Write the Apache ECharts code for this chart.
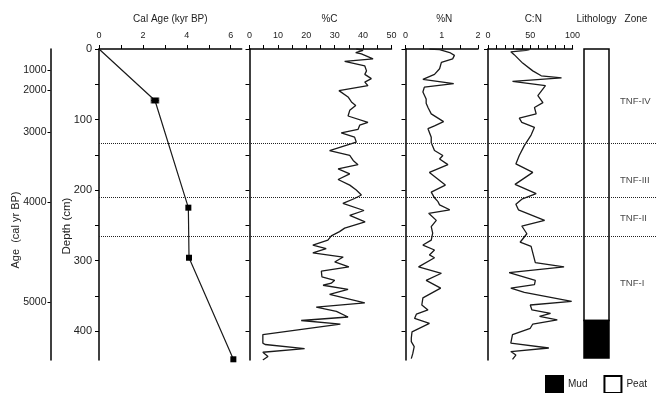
<!DOCTYPE html>
<html>
<head>
<meta charset="utf-8">
<script src="https://cdn.jsdelivr.net/npm/echarts@6/dist/echarts.min.js"></script>
<style>
  html, body { margin: 0; padding: 0; background: #fff; }
  #chart { width: 658px; height: 393px; }
</style>
</head>
<body>
<div id="chart"></div>
<script>
// [depth (cm), value]
const carbonPct = [
  [0, 37.6], [2, 40], [5, 37.4], [7, 39.4], [14, 43.5], [17.5, 33.5], [24, 40.6], [31, 41.2],
  [36, 40.6], [42, 42.9], [47, 40.6], [52, 41.7], [59, 31.5], [68, 34.7], [75, 35.9], [80, 37.4],
  [87, 35.3], [95, 34.7], [104, 41.7], [108, 38.8], [114, 38.2], [119, 32.3], [125, 37], [132, 37.6],
  [144, 28.2], [151, 35.3], [158, 36.5], [164, 38.2], [170, 31.2], [177, 35.3], [185, 31.2], [193, 35.3],
  [200, 37.6], [207, 39.4], [212, 37], [219, 32.9], [229, 40.3], [236, 35.3], [245, 40.7], [254, 33.5],
  [259, 31.7], [265, 28.8], [271, 27.6], [278, 22.3], [283, 27], [289, 22.3], [295, 33], [302, 30],
  [309, 35], [315, 25.3], [323, 25.5], [328, 30], [332, 28.8], [335, 25.9], [341, 34.7], [348, 28.2],
  [360, 40.6], [366, 23.5], [372, 30.6], [380, 34.7], [385, 18.2], [390, 32], [405, 4.7], [417, 4.7],
  [419, 5.5], [425, 19.4], [430, 4.7], [436, 6.5], [441, 4.7]
];

const nitrogenPct = [
  [0, 0.66], [1, 0.94], [5, 1.22], [9, 1.35], [14, 1.3], [19, 0.99], [28, 0.94], [36, 0.8],
  [43, 0.48], [49, 1.33], [54, 0.52], [61, 0.48], [71, 0.57], [77, 0.57], [83, 0.62], [92, 0.71],
  [103, 1.05], [109, 0.8], [113, 0.62], [125, 0.71], [133, 0.71], [144, 0.8], [151, 1.03], [156, 0.94],
  [164, 1.17], [175, 0.66], [193, 1.1], [203, 0.71], [211, 0.8], [216, 0.89], [221, 0.94], [228, 1.22],
  [233, 0.64], [243, 0.85], [252, 0.71], [261, 0.75], [271, 0.71], [278, 0.48], [285, 0.8], [292, 0.66],
  [296, 0.8], [309, 0.36], [318, 0.99], [328, 0.57], [339, 0.97], [353, 0.48], [363, 0.45], [370, 0.62],
  [376, 0.3], [382, 0.25], [389, 0.66], [401, 0.18], [410, 0.16], [415, 0.16], [422, 0.24], [432, 0.2],
  [439, 0.16]
];

const cnRatio = [
  [0, 33], [1, 49], [2, 45], [4, 27], [8, 31], [20, 41], [31, 53], [38, 63], [41, 87], [46, 29],
  [52, 68], [66, 59], [76, 65], [83, 55], [92, 57], [98, 37], [104, 40], [111, 55], [122, 51],
  [137, 43], [151, 37], [163, 33], [175, 53], [192, 32], [205, 57], [213, 40], [220, 33], [228, 36],
  [243, 67], [251, 40], [262, 46], [274, 38], [280, 51], [303, 56], [309, 90], [317, 25], [328, 56],
  [334, 55], [339, 27], [345, 43], [358, 99], [363, 50], [370, 52], [375, 74], [379, 61], [384, 82],
  [390, 53], [396, 50], [405, 29], [417, 27], [424, 72], [429, 27], [434, 33], [440, 29]
];

// age-depth model: dated depths, cal ages (kyr BP) and errors
const dateDepth = [0, 73, 225, 296, 440];
const dateAge = [0, 2.55, 4.07, 4.1, 6.12];
const dateErr = [0, 0.17, 0.04, 0.04, 0.04];

// left age scale: depth of each tick and its label
const ageTickDepth = [30, 58, 118, 217, 359];
const ageTickLabels = ['1000', '2000', '3000', '4000', '5000'];

const depthTicks = [0, 50, 100, 150, 200, 250, 300, 350, 400];
const depthLabels = [0, 100, 200, 300, 400];
const calAgeTicks = [0, 1, 2, 3, 4, 5, 6];
const calAgeLabels = [0, 2, 4, 6];
const carbonTicks = [0, 5, 10, 15, 20, 25, 30, 35, 40, 45, 50];
const carbonLabels = [0, 10, 20, 30, 40, 50];
const nitrogenTicks = [0, 0.5, 1, 1.5, 2];
const nitrogenLabels = [0, 1, 2];
const cnTicks = [0, 10, 20, 30, 40, 50, 60, 70, 80, 90, 100];
const cnLabels = [0, 50, 100];

const zoneBounds = [134, 210, 266];
const zoneNames = ['TNF-IV', 'TNF-III', 'TNF-II', 'TNF-I'];
const zoneLabelDepth = [74, 186, 240, 333];

const lithNames = ['Peat', 'Mud'];
const lithTop = [0, 385];
const lithBottom = [385, 438];
const lithColors = ['#ffffff', '#000000'];

const DEPTH_MAX = 441;
const FONT = '"Liberation Sans", Arial, sans-serif';
const INK = '#1a1a1a';

const chart = echarts.init(document.getElementById('chart'), null, { renderer: 'canvas' });

function topAxis(gridIndex, name, min, max, ticks, labels, namePad) {
  return {
    type: 'value', gridIndex, position: 'top', min, max,
    name, nameLocation: 'middle', nameGap: 25,
    nameTextStyle: { fontSize: 10, color: '#222', fontFamily: FONT, padding: namePad || 0 },
    axisLine: { show: true, onZero: false, lineStyle: { color: '#000', width: 1.5 } },
    axisTick: { show: true, length: 4, lineStyle: { color: '#000', width: 1 }, customValues: ticks },
    axisLabel: { show: true, margin: 9, fontSize: 9, color: '#222', fontFamily: FONT, customValues: labels },
    splitLine: { show: false }
  };
}

function depthAxis(gridIndex, withLabels) {
  return {
    type: 'value', gridIndex, min: 0, max: DEPTH_MAX, inverse: true, position: 'left',
    axisLine: { show: true, onZero: false, lineStyle: { color: '#000', width: 1.5 } },
    axisTick: { show: true, length: 4, lineStyle: { color: '#000', width: 1 }, customValues: depthTicks },
    axisLabel: { show: withLabels, margin: 7, fontSize: 11, color: '#222', fontFamily: FONT, customValues: depthLabels },
    splitLine: { show: false }
  };
}

function hiddenAxis(gridIndex, type, extra) {
  return Object.assign({
    type: 'value', gridIndex, min: 0, max: type === 'y' ? DEPTH_MAX : 1,
    inverse: type === 'y',
    axisLine: { show: false }, axisTick: { show: false }, axisLabel: { show: false },
    splitLine: { show: false }
  }, extra || {});
}

const gridTop = 49, gridBottom = 393 - 360;

const option = {
  animation: false,
  textStyle: { fontFamily: FONT },
  grid: [
    { left: 99, width: 142.7, top: gridTop, bottom: gridBottom },   // cal age
    { left: 249.5, width: 142, top: gridTop, bottom: gridBottom },  // %C
    { left: 405.5, width: 72.5, top: gridTop, bottom: gridBottom }, // %N
    { left: 488, width: 84.5, top: gridTop, bottom: gridBottom },   // C:N
    { left: 584, width: 25, top: gridTop, bottom: gridBottom },     // lithology
    { left: 99, right: 1, top: gridTop, bottom: gridBottom },       // zone lines overlay
    { left: 612, right: 1, top: gridTop, bottom: gridBottom }       // zone labels
  ],
  xAxis: [
    topAxis(0, 'Cal Age (kyr BP)', 0, 6.5, calAgeTicks, calAgeLabels),
    topAxis(1, '%C', 0, 50, carbonTicks, carbonLabels, [0, 0, 0, 18]),
    topAxis(2, '%N', 0, 2, nitrogenTicks, nitrogenLabels, [0, 0, 0, 5]),
    topAxis(3, 'C:N', 0, 100, cnTicks, cnLabels, [0, 0, 0, 6]),
    hiddenAxis(4, 'x', {
      position: 'top', name: 'Lithology', nameLocation: 'middle', nameGap: 25,
      nameTextStyle: { fontSize: 10, color: '#222', fontFamily: FONT }
    }),
    hiddenAxis(5, 'x'),
    hiddenAxis(6, 'x', {
      position: 'top', name: 'Zone', nameLocation: 'middle', nameGap: 25,
      nameTextStyle: { fontSize: 10, color: '#222', fontFamily: FONT, padding: [0, 0, 0, 3] }
    })
  ],
  yAxis: [
    depthAxis(0, true),
    {
      type: 'value', gridIndex: 0, min: 0, max: DEPTH_MAX, inverse: true,
      position: 'left', offset: 48.5,
      axisLine: { show: true, onZero: false, lineStyle: { color: '#000', width: 1.5 } },
      axisTick: { show: true, length: 3, lineStyle: { color: '#000', width: 1 }, customValues: ageTickDepth },
      axisLabel: {
        show: true, margin: 4, fontSize: 10.5, color: '#222', fontFamily: FONT,
        customValues: ageTickDepth,
        formatter: v => ageTickLabels[ageTickDepth.indexOf(v)] || ''
      },
      splitLine: { show: false }
    },
    depthAxis(1, false),
    depthAxis(2, false),
    depthAxis(3, false),
    hiddenAxis(4, 'y'),
    hiddenAxis(5, 'y'),
    hiddenAxis(6, 'y')
  ],
  legend: {
    left: 545, top: 375, padding: 0, icon: 'rect', itemWidth: 17, itemHeight: 17, itemGap: 16,
    data: ['Mud', 'Peat'],
    textStyle: { fontSize: 10, color: '#222', fontFamily: FONT }
  },
  graphic: [
    {
      type: 'text', x: 16, y: 230, rotation: Math.PI / 2,
      style: { text: 'Age  (cal yr BP)', fontSize: 11, fill: '#222', fontFamily: FONT, align: 'center', verticalAlign: 'middle' }
    },
    {
      type: 'text', x: 67, y: 226, rotation: Math.PI / 2,
      style: { text: 'Depth (cm)', fontSize: 11.5, fill: '#222', fontFamily: FONT, align: 'center', verticalAlign: 'middle' }
    }
  ],
  series: [
    {
      name: 'Age model', type: 'line', xAxisIndex: 0, yAxisIndex: 0,
      data: dateDepth.map((d, i) => ({ value: [dateAge[i], d], symbol: i === 0 ? 'none' : 'rect' })),
      symbolSize: 6, itemStyle: { color: '#000' },
      lineStyle: { color: INK, width: 1.2 }
    },
    {
      name: 'Age error', type: 'custom', xAxisIndex: 0, yAxisIndex: 0,
      data: dateDepth.map((d, i) => [dateAge[i] - dateErr[i], dateAge[i] + dateErr[i], d]).filter((r, i) => dateErr[i] > 0.1),
      renderItem: (params, api) => {
        const a = api.coord([api.value(0), api.value(2)]);
        const b = api.coord([api.value(1), api.value(2)]);
        const s = { stroke: '#000', lineWidth: 1 };
        return {
          type: 'group', children: [
            { type: 'line', shape: { x1: a[0], y1: a[1], x2: b[0], y2: b[1] }, style: s },
            { type: 'line', shape: { x1: a[0], y1: a[1] - 3, x2: a[0], y2: a[1] + 3 }, style: s },
            { type: 'line', shape: { x1: b[0], y1: b[1] - 3, x2: b[0], y2: b[1] + 3 }, style: s }
          ]
        };
      }
    },
    {
      name: '%C', type: 'line', xAxisIndex: 1, yAxisIndex: 2, symbol: 'none',
      data: carbonPct.map(p => [p[1], p[0]]), lineStyle: { color: INK, width: 1.3 }
    },
    {
      name: '%N', type: 'line', xAxisIndex: 2, yAxisIndex: 3, symbol: 'none',
      data: nitrogenPct.map(p => [p[1], p[0]]), lineStyle: { color: INK, width: 1.3 }
    },
    {
      name: 'C:N', type: 'line', xAxisIndex: 3, yAxisIndex: 4, symbol: 'none',
      data: cnRatio.map(p => [p[1], p[0]]), lineStyle: { color: INK, width: 1.3 }
    },
    ...lithNames.map((name, i) => ({
      name, type: 'custom', xAxisIndex: 4, yAxisIndex: 5,
      itemStyle: { color: lithColors[i], borderColor: '#000', borderWidth: 1.5 },
      data: [[0, lithTop[i], lithBottom[i]]],
      renderItem: (params, api) => {
        const p1 = api.coord([0, api.value(1)]);
        const p2 = api.coord([1, api.value(2)]);
        return {
          type: 'rect',
          shape: { x: p1[0], y: p1[1], width: p2[0] - p1[0], height: p2[1] - p1[1] },
          style: { fill: lithColors[i], stroke: '#000', lineWidth: 1.5 }
        };
      }
    })),
    {
      name: 'Zones', type: 'line', xAxisIndex: 5, yAxisIndex: 6, data: [], z: 10,
      markLine: {
        silent: true, symbol: 'none', label: { show: false },
        lineStyle: { type: 'dotted', color: '#222', width: 1 },
        data: zoneBounds.map(d => ({ yAxis: d }))
      }
    },
    {
      name: 'Zone labels', type: 'scatter', xAxisIndex: 6, yAxisIndex: 7,
      symbolSize: 0.1, itemStyle: { color: 'rgba(0,0,0,0)' },
      data: zoneNames.map((n, i) => [0, zoneLabelDepth[i], n]),
      label: {
        show: true, position: 'right', distance: 8, formatter: p => p.value[2],
        fontSize: 9.5, color: '#111', fontFamily: '"Liberation Sans Narrow", "Liberation Sans", Arial, sans-serif'
      }
    }
  ]
};

chart.setOption(option);
</script>
</body>
</html>
